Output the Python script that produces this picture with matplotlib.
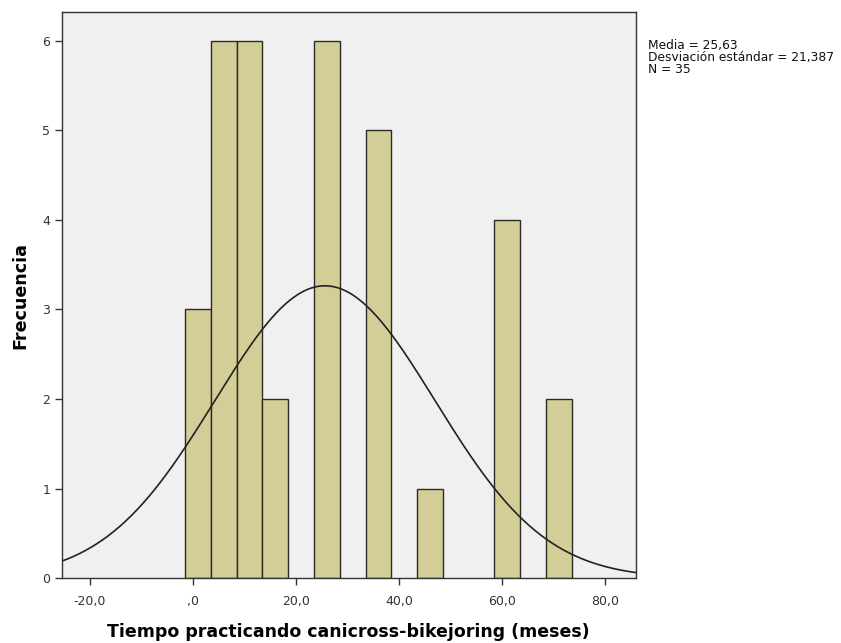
import numpy as np
import matplotlib
matplotlib.use("Agg")
import matplotlib.pyplot as plt

plt.rcParams['font.family'] = ['DejaVu Sans']

# Histogram bins (width 5 months) and frequencies
bin_centers = [1, 6, 11, 16, 26, 36, 46, 61, 71]
counts = [3, 6, 6, 2, 6, 5, 1, 4, 2]
bin_width = 5.0

mean_val = 25.63
sd_val = 21.387
n_val = 35

x_ticks = [-20, 0, 20, 40, 60, 80]
x_tick_labels = ["-20,0", ",0", "20,0", "40,0", "60,0", "80,0"]
y_ticks = [0, 1, 2, 3, 4, 5, 6]

fig = plt.figure(figsize=(8.41, 6.43), dpi=100)
ax = fig.add_axes([0.0737, 0.101, 0.682, 0.880])
ax.set_facecolor('#f0f0f0')

ax.bar(bin_centers, counts, width=bin_width, color='#d3ce97',
       edgecolor='#2b2b20', linewidth=1.0, zorder=2)

# Normal curve scaled to the histogram counts
xs = np.linspace(-25.4, 85.9, 400)
pdf = n_val * bin_width / (sd_val * np.sqrt(2 * np.pi)) * np.exp(-0.5 * ((xs - mean_val) / sd_val) ** 2)
ax.plot(xs, pdf, color='#222222', linewidth=1.2, zorder=3)

ax.set_xlim(-25.4, 85.9)
ax.set_ylim(0, 6.32)
ax.set_xticks(x_ticks)
ax.set_xticklabels(x_tick_labels)
ax.set_yticks(y_ticks)
ax.tick_params(axis='both', direction='out', length=5, width=1, colors='#333333',
               labelsize=9, labelcolor='#333333')
ax.tick_params(axis='x', pad=7)
for s in ax.spines.values():
    s.set_color('#333333')
    s.set_linewidth(1)

ax.set_xlabel('Tiempo practicando canicross-bikejoring (meses)', fontsize=12.5,
              fontweight='bold', labelpad=11)
ax.set_ylabel('Frecuencia', fontsize=12.6, fontweight='bold', labelpad=9)

fig.text(0.770, 0.940, 'Media = 25,63\nDesviación estándar = 21,387\nN = 35',
         fontsize=8.8, va='top', ha='left', linespacing=0.9, color='#111111')

fig.savefig('out.png', dpi=100, facecolor='white')
